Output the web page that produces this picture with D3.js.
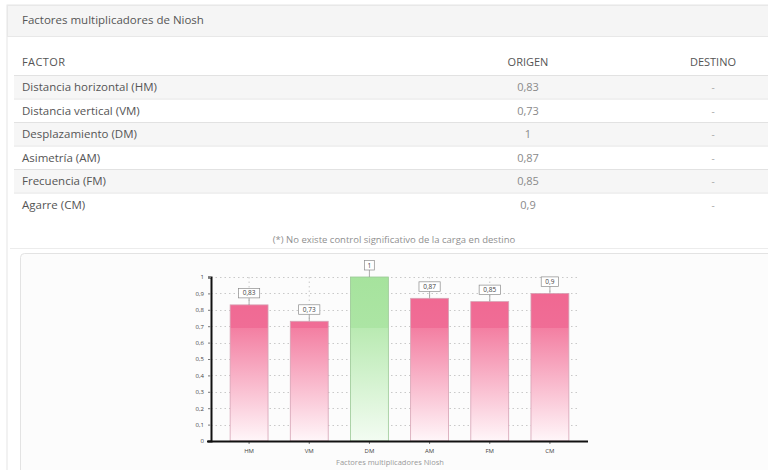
<!DOCTYPE html>
<html>
<head>
<meta charset="utf-8">
<script src="https://cdn.jsdelivr.net/npm/d3@7"></script>
<style>
  html, body { margin: 0; padding: 0; background: #ffffff; }
  svg { display: block; font-family: "Open Sans", "DejaVu Sans", sans-serif; }
</style>
</head>
<body>
<svg id="view" width="768" height="470"></svg>
<script>
// Niosh multiplier factors
const factorNames = ["Distancia horizontal (HM)", "Distancia vertical (VM)", "Desplazamiento (DM)",
                     "Asimetría (AM)", "Frecuencia (FM)", "Agarre (CM)"];
const factorCodes = ["HM", "VM", "DM", "AM", "FM", "CM"];
const origenValues = [0.83, 0.73, 1, 0.87, 0.85, 0.9];
const destinoValues = ["-", "-", "-", "-", "-", "-"];
const yTicks = [0, 0.1, 0.2, 0.3, 0.4, 0.5, 0.6, 0.7, 0.8, 0.9, 1];

const fmt = v => String(v).replace(".", ",");
const svg = d3.select("#view");
const defs = svg.append("defs");

// ---------- panel frame ----------
svg.append("rect").attr("x", 7).attr("y", 5).attr("width", 770).attr("height", 480)
  .attr("fill", "#ffffff").attr("stroke", "#e6e6e6");
svg.append("rect").attr("x", 7.5).attr("y", 5.5).attr("width", 770).attr("height", 31)
  .attr("fill", "#f5f5f5").attr("stroke", "#e8e8e8");
svg.append("text").attr("x", 22).attr("y", 24).attr("font-size", 11.5).attr("fill", "#555")
  .text("Factores multiplicadores de Niosh");

// ---------- table ----------
const rowTop = 75, rowH = 23.5;
const colFactor = 22, colOrigen = 528, colDestino = 713;
const head = svg.append("g").attr("font-size", 11).attr("fill", "#555");
head.append("text").attr("x", colFactor).attr("y", 66).attr("letter-spacing", 0.4).text("FACTOR");
head.append("text").attr("x", colOrigen).attr("y", 66).attr("text-anchor", "middle").text("ORIGEN");
head.append("text").attr("x", colDestino).attr("y", 66).attr("text-anchor", "middle").text("DESTINO");

const rows = svg.append("g").selectAll("g").data(factorNames).join("g")
  .attr("transform", (d, i) => `translate(0,${rowTop + i * rowH})`);
rows.append("rect").attr("x", 14).attr("y", 0).attr("width", 760).attr("height", rowH)
  .attr("fill", (d, i) => i % 2 === 0 ? "#f6f6f6" : "#ffffff");
rows.append("line").attr("x1", 14).attr("x2", 768).attr("y1", 0.5).attr("y2", 0.5)
  .attr("stroke", "#e2e2e2");
rows.append("text").attr("x", colFactor).attr("y", 16).attr("font-size", 11.5).attr("fill", "#555")
  .text(d => d);
rows.append("text").attr("x", colOrigen).attr("y", 16).attr("font-size", 11).attr("fill", "#8a8a8a")
  .attr("text-anchor", "middle").text((d, i) => fmt(origenValues[i]));
rows.append("text").attr("x", colDestino).attr("y", 16).attr("font-size", 10).attr("fill", "#aaa")
  .attr("text-anchor", "middle").text((d, i) => destinoValues[i]);

svg.append("text").attr("x", 394).attr("y", 243).attr("text-anchor", "middle")
  .attr("font-size", 9.5).attr("fill", "#8f8f8f")
  .text("(*) No existe control significativo de la carga en destino");
svg.append("line").attr("x1", 10).attr("x2", 768).attr("y1", 248.5).attr("y2", 248.5)
  .attr("stroke", "#ececec");

// ---------- chart box ----------
svg.append("rect").attr("x", 20.5).attr("y", 253.5).attr("width", 770).attr("height", 240)
  .attr("rx", 4).attr("fill", "#fcfcfc").attr("stroke", "#e3e3e3");

const plotTop = 277, plotBottom = 441, plotLeft = 211, plotRight = 580;
const y = d3.scaleLinear().domain([0, 1]).range([plotBottom, plotTop]);
const x = d3.scaleBand().domain(factorCodes).range([219, plotRight])
  .paddingInner(0.37).paddingOuter(0.185);

// bar gradients (shared vertical extent of the plot)
function gradient(id, stops) {
  const g = defs.append("linearGradient").attr("id", id)
    .attr("gradientUnits", "userSpaceOnUse")
    .attr("x1", 0).attr("x2", 0).attr("y1", plotTop).attr("y2", plotBottom);
  stops.forEach(s => g.append("stop").attr("offset", s[0]).attr("stop-color", s[1]));
}
gradient("pinkFill", [[0, "#f06690"], [0.31, "#f06d96"], [0.312, "#f37fa2"], [1, "#fff6f9"]]);
gradient("greenFill", [[0, "#a6e39d"], [0.31, "#ace5a4"], [0.312, "#b9eab2"], [1, "#f3fcf2"]]);

// grid
const grid = svg.append("g").attr("stroke", "#c9c9c9").attr("stroke-dasharray", "1.5,3");
grid.selectAll("line.h").data(yTicks.slice(1)).join("line").attr("class", "h")
  .attr("x1", plotLeft).attr("x2", plotRight)
  .attr("y1", d => Math.round(y(d)) + 0.5).attr("y2", d => Math.round(y(d)) + 0.5);
grid.selectAll("line.v").data(factorCodes).join("line").attr("class", "v")
  .attr("x1", d => x(d) + x.bandwidth() / 2).attr("x2", d => x(d) + x.bandwidth() / 2)
  .attr("y1", plotTop).attr("y2", plotBottom);

// bars
svg.append("g").selectAll("rect").data(factorCodes).join("rect")
  .attr("x", d => x(d))
  .attr("y", (d, i) => y(origenValues[i]))
  .attr("width", x.bandwidth())
  .attr("height", (d, i) => plotBottom - y(origenValues[i]))
  .attr("fill", (d, i) => origenValues[i] >= 1 ? "url(#greenFill)" : "url(#pinkFill)")
  .attr("stroke", (d, i) => origenValues[i] >= 1 ? "#9bc996" : "#d6a3b5")
  .attr("stroke-width", 0.8);

// value labels
const labels = svg.append("g").selectAll("g").data(factorCodes).join("g")
  .attr("transform", (d, i) => `translate(${x(d) + x.bandwidth() / 2},${y(origenValues[i])})`);
labels.append("line").attr("x1", 0).attr("x2", 0).attr("y1", -7).attr("y2", 0)
  .attr("stroke", "#999").attr("stroke-width", 0.8);
labels.each(function (d, i) {
  const g = d3.select(this);
  const t = fmt(origenValues[i]);
  const w = t.length * 3.8 + 6;
  g.append("rect").attr("x", -w / 2).attr("y", -16.5).attr("width", w).attr("height", 9.5)
    .attr("fill", "#ffffff").attr("stroke", "#8c8c8c").attr("stroke-width", 0.7);
  g.append("text").attr("x", 0).attr("y", -9.5).attr("text-anchor", "middle")
    .attr("font-size", 6.5).attr("fill", "#444").text(t);
});

// axes
const yAxis = svg.append("g").attr("transform", `translate(${plotLeft},0)`)
  .call(d3.axisLeft(y).tickValues(yTicks).tickSize(3).tickFormat(fmt));
yAxis.select(".domain").attr("stroke", "#111").attr("stroke-width", 2);
yAxis.selectAll(".tick line").attr("stroke", "#777");
yAxis.selectAll(".tick text").attr("font-size", 6).attr("fill", "#444").attr("x", -7)
  .attr("font-family", "Open Sans, sans-serif");

const xAxis = svg.append("g").attr("transform", `translate(0,${plotBottom})`)
  .call(d3.axisBottom(x).tickSize(3).tickSizeOuter(0));
xAxis.select(".domain").remove();
xAxis.selectAll(".tick line").attr("stroke", "#777");
xAxis.selectAll(".tick text").attr("font-size", 6).attr("fill", "#444").attr("y", 8)
  .attr("font-family", "Open Sans, sans-serif");
svg.append("line").attr("x1", 207).attr("x2", 588).attr("y1", plotBottom + 0.5).attr("y2", plotBottom + 0.5)
  .attr("stroke", "#111").attr("stroke-width", 2.2);

svg.append("text").attr("x", 390).attr("y", 465).attr("text-anchor", "middle")
  .attr("font-size", 7.5).attr("fill", "#999").text("Factores multiplicadores Niosh");
</script>
</body>
</html>
